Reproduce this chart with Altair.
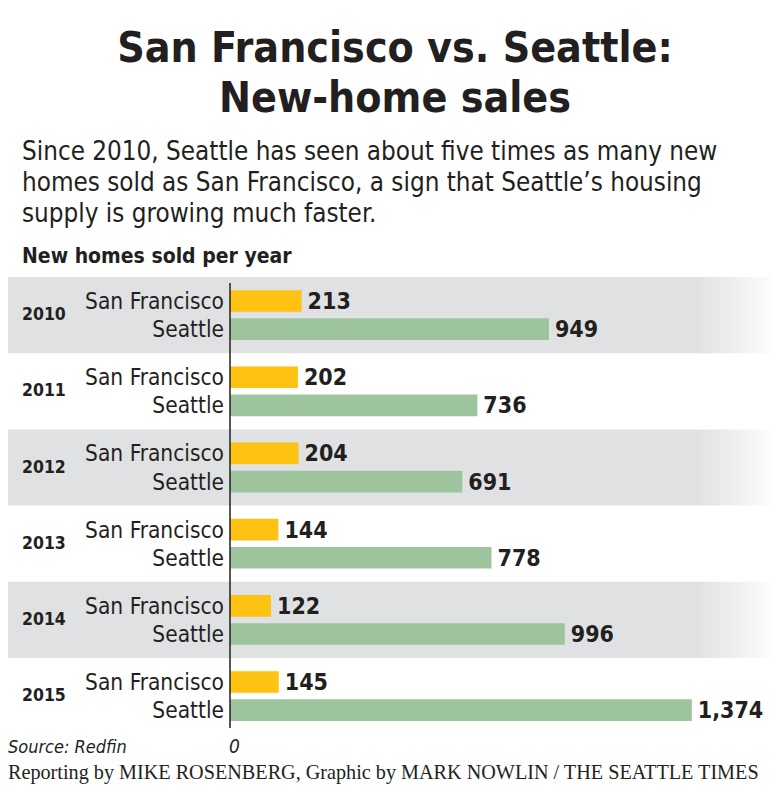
import altair as alt
import pandas as pd

years = ["2010", "2011", "2012", "2013", "2014", "2015"]
cities = ["San Francisco", "Seattle"]
sf_sales = [213, 202, 204, 144, 122, 145]
seattle_sales = [949, 736, 691, 778, 996, 1374]
shaded_years = ["2010", "2012", "2014"]

title_lines = ["San Francisco vs. Seattle:", "New-home sales"]
subtitle_lines = [
    "Since 2010, Seattle has seen about five times as many new",
    "homes sold as San Francisco, a sign that Seattle\u2019s housing",
    "supply is growing much faster.",
]
axis_title = "New homes sold per year"
source_text = "Source: Redfin"
credit_text = "Reporting by MIKE ROSENBERG, Graphic by MARK NOWLIN / THE SEATTLE TIMES"

YELLOW = "#fec212"
GREEN = "#9dc49d"
GRAY = "#e0e1e3"
INK = "#231f20"
NARROW = "DejaVu Sans Condensed, Liberation Sans Narrow, sans-serif"

rows = []
for i, y in enumerate(years):
    rows.append({"year": y, "city": cities[0], "value": sf_sales[i]})
    rows.append({"year": y, "city": cities[1], "value": seattle_sales[i]})
df = pd.DataFrame(rows)
bands = pd.DataFrame({"year": shaded_years})
one = pd.DataFrame({"k": [0]})

W, H = 764, 777
xscale = alt.Scale(domain=[0, 1400], range=[222, 222 + 1400 * 0.3361], zero=True, nice=False)
yscale = alt.Scale(domain=years, range=[269, 269 + 6 * 76.2], paddingInner=0, paddingOuter=0)
yoff = alt.Scale(domain=cities, paddingInner=0.23, paddingOuter=0.47)

Y = alt.Y("year:N", scale=yscale, axis=None)
YO = alt.YOffset("city:N", scale=yoff, sort=cities)

bg = alt.Chart(bands).mark_rect(
    color=alt.LinearGradient(
        gradient="linear",
        stops=[
            alt.GradientStop(offset=0, color=GRAY),
            alt.GradientStop(offset=0.893, color=GRAY),
            alt.GradientStop(offset=1, color="#ffffff"),
        ],
        x1=0, x2=1, y1=0, y2=0,
    )
).encode(x=alt.value(-8), x2=alt.value(W + 8), y=Y)

bars = alt.Chart(df).mark_bar().encode(
    x=alt.X("value:Q", scale=xscale, axis=None),
    y=Y,
    yOffset=YO,
    color=alt.Color("city:N", scale=alt.Scale(domain=cities, range=[YELLOW, GREEN]), legend=None),
)

values = alt.Chart(df).mark_text(
    align="left", baseline="middle", dx=6, dy=1, font=NARROW, fontWeight="bold", fontSize=23, color=INK
).encode(
    x=alt.X("value:Q", scale=xscale, axis=None),
    y=Y,
    yOffset=YO,
    text=alt.Text("value:Q", format=","),
)

city_labels = alt.Chart(df).mark_text(
    align="right", baseline="middle", dy=1, font=NARROW, fontSize=22.5, color=INK
).encode(x=alt.value(216), y=Y, yOffset=YO, text="city:N")

year_df = pd.DataFrame({"year": years})
year_labels = alt.Chart(year_df).mark_text(
    align="left", baseline="middle", font=NARROW, fontWeight="bold", fontSize=17.5, color=INK
).encode(x=alt.value(14), y=Y, text="year:N")

axis_line = alt.Chart(one).mark_rule(color=INK, strokeWidth=1.5).encode(
    x=alt.datum(0, scale=xscale), y=alt.value(275), y2=alt.value(720)
)
zero_label = alt.Chart(one).mark_text(
    align="left", baseline="alphabetic", font=NARROW, fontStyle="italic", fontSize=19, color=INK, dx=-1
).encode(x=alt.datum(0, scale=xscale), y=alt.value(745), text=alt.value("0"))

title = alt.Chart(one).mark_text(
    align="center", baseline="alphabetic", font=NARROW, fontWeight="bold", fontSize=42.5,
    lineHeight=50, color=INK
).encode(x=alt.value(387), y=alt.value(54), text=alt.value(title_lines))

subtitle = alt.Chart(one).mark_text(
    align="left", baseline="alphabetic", font=NARROW, fontSize=25.8, lineHeight=31, color=INK
).encode(x=alt.value(14), y=alt.value(152), text=alt.value(subtitle_lines))

ytitle = alt.Chart(one).mark_text(
    align="left", baseline="alphabetic", font=NARROW, fontWeight="bold", fontSize=21, color=INK
).encode(x=alt.value(14), y=alt.value(255), text=alt.value(axis_title))

source = alt.Chart(one).mark_text(
    align="left", baseline="alphabetic", font=NARROW, fontStyle="italic", fontSize=18, color=INK
).encode(x=alt.value(0), y=alt.value(745), text=alt.value(source_text))

credit = alt.Chart(one).mark_text(
    align="left", baseline="alphabetic", font="Liberation Serif, serif", fontSize=20.2, color=INK
).encode(x=alt.value(0), y=alt.value(771), text=alt.value(credit_text))

chart = alt.layer(
    bg, bars, values, city_labels, year_labels, axis_line, zero_label,
    title, subtitle, ytitle, source, credit
).properties(
    width=W, height=H, autosize=alt.AutoSizeParams(type="none"), padding=0, background="white"
).configure_view(stroke=None)

chart.save("out.html", embed_options={"renderer": "svg", "actions": False})
